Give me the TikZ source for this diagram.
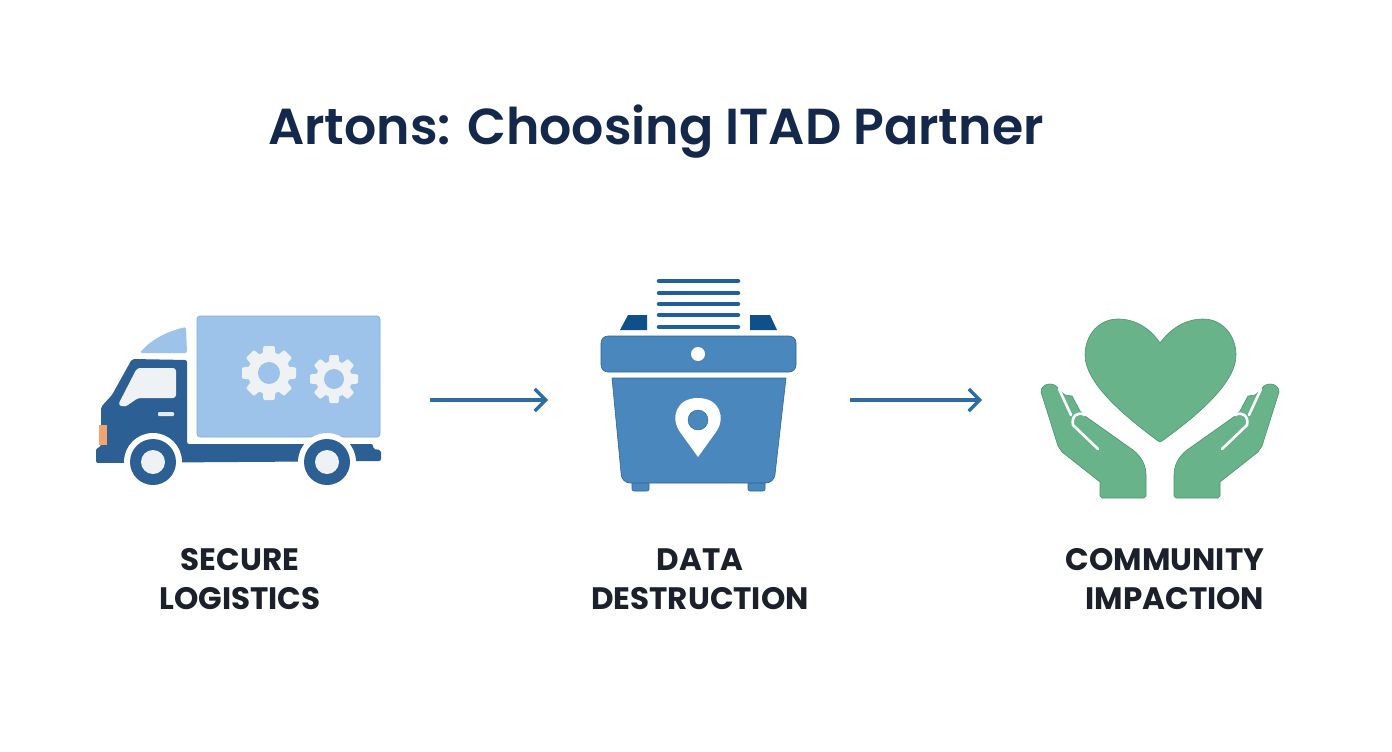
\documentclass[tikz,border=0pt]{standalone}
\usepackage{fontspec}
\setmainfont{Poppins}
\newfontfamily\titlefont{Poppins SemiBold}
\usetikzlibrary{positioning,arrows.meta}
\definecolor{titlenavy}{RGB}{20, 40, 75}
\definecolor{labelink}{RGB}{28, 32, 42}
\definecolor{truckblue}{RGB}{44, 95, 148}
\definecolor{boxblue}{RGB}{157, 195, 234}
\definecolor{boxedge}{RGB}{125, 172, 216}
\definecolor{palegrey}{RGB}{238, 242, 244}
\definecolor{lampcolor}{RGB}{242, 163, 111}
\definecolor{binblue}{RGB}{74, 135, 189}
\definecolor{binedge}{RGB}{44, 100, 150}
\definecolor{tabblue}{RGB}{15, 79, 138}
\definecolor{stripblue}{RGB}{30, 96, 158}
\definecolor{arrowblue}{RGB}{44, 109, 163}
\definecolor{heartgreen}{RGB}{105, 179, 138}
\definecolor{heartedge}{RGB}{76, 150, 110}
\tikzset{
    titletext/.style={font=\fontsize{50.6}{60}\selectfont\titlefont, text=titlenavy, inner sep=0pt},
    steplabel/.style={font=\fontsize{31}{39}\selectfont\bfseries, text=labelink, inner sep=0pt, align=center},
    iconbox/.style={minimum width=#1, minimum height=170pt, inner sep=0pt, outer sep=0pt},
    flowarrow/.style={arrowblue, line width=3.2pt, -{Straight Barb[length=11pt, width=22pt, line width=3.2pt]}},
    binpart/.style={fill=binblue, draw=binedge, line width=0.6pt},
    handshape/.style={fill=heartgreen, draw=heartedge, line width=0.6pt},
}

\begin{document}
\begin{tikzpicture}[x=1pt, y=-1pt]
\useasboundingbox (0,0) rectangle (1392,752);
\fill[white] (0,0) rectangle (1392,752);

% Title
\node[titletext] (title) at (656,132) {Artons: Choosing ITAD Partner};

% Truck cargo box and deflector
\draw[fill=boxblue, draw=boxedge, line width=0.6pt, rounded corners=3pt] (197,316) rectangle (380,437);
\fill[boxblue, rounded corners=1.5pt] (140,353) .. controls (150,340) and (168,331) .. (186,327) -- (187,353) -- cycle;

% Truck gears
\def\gearcolor{palegrey}
\foreach \gx/\gy/\gouter/\groot/\ghole/\gtooth in {269/373/27/21/11/6.5, 334/379/24/18/10/5.5} {
    \fill[\gearcolor] (\gx,\gy) circle (\groot pt);
    \foreach \ang in {0,45,...,315} {
        \fill[\gearcolor, rounded corners=1pt, shift={(\gx,\gy)}, rotate=\ang]
            (\groot-2,-\gtooth) -- (\gouter,-\gtooth+1) -- (\gouter,\gtooth-1) -- (\groot-2,\gtooth) -- cycle;
    }
    \fill[boxblue] (\gx,\gy) circle (\ghole pt);
}

% Truck cab and chassis
\fill[truckblue, rounded corners=2pt] (187,360) -- (132,359) -- (112,395) -- (101,407) -- (101,447) -- (96,448)
    -- (96,463) -- (381,461) -- (381,450) -- (373,449) -- (373,444) -- (187,444) -- cycle;
\fill[palegrey, rounded corners=3pt] (137,368) -- (176,368) -- (176,398) -- (138,398) -- (125,407) -- (118,405) -- cycle;
\fill[palegrey!85!boxblue, rounded corners=1pt] (158,412) rectangle (174,416);
\fill[lampcolor] (99,425) rectangle (107,445);

% Truck wheels
\foreach \wx in {153,327} {
    \fill[white] (\wx,462) circle (29pt);
    \fill[truckblue] (\wx,462) circle (23pt);
    \fill[palegrey] (\wx,462) circle (12pt);
}

% Shredder paper strips
\foreach \sy in {281,293,304,315,327} {
    \draw[stripblue, line width=4.5pt, line cap=round] (659,\sy) -- (738,\sy);
}

% Shredder tabs
\fill[tabblue] (620,330) -- (628,315) -- (647,315) -- (647,330) -- cycle;
\fill[tabblue] (750,315) -- (770,315) -- (777,330) -- (750,330) -- cycle;

% Shredder lid and bin
\draw[binpart, rounded corners=7pt] (601,336) rectangle (796,372);
\fill[white] (698,354) circle (7pt);
\draw[binpart, rounded corners=2pt] (632,480) rectangle (649,491);
\draw[binpart, rounded corners=2pt] (748,480) rectangle (765,491);
\draw[binpart, line join=round] (612,378) -- (786,378) [rounded corners=8pt] -- (774,483) -- (622,483) [sharp corners] -- (612,378) -- cycle;

% Map pin on the bin
\fill[white] (698,457) -- (680,432) .. controls (670,418) and (676,398) .. (698,398)
    .. controls (720,398) and (726,418) .. (716,432) -- cycle;
\draw[fill=binblue, draw=binedge, line width=0.4pt] (698,420) circle (10pt);

% Heart
\fill[heartgreen, draw=heartedge, line width=0.6pt] (1160,343) .. controls (1150,328) and (1135,319) .. (1118,319)
    .. controls (1098,319) and (1085,336) .. (1085,355) .. controls (1085,385) and (1130,420) .. (1158,441)
    -- (1160,442) -- (1162,441) .. controls (1191,420) and (1236,385) .. (1236,355)
    .. controls (1236,336) and (1223,319) .. (1203,319) .. controls (1186,319) and (1171,328) .. (1160,343) -- cycle;

% Left and right hands
\foreach \hshift/\hscale in {0/1, 2320/-1} {
\begin{scope}[xshift=\hshift pt, xscale=\hscale]
    \draw[handshape, line join=round] (1041,392) .. controls (1041,387) and (1045,384) .. (1050,384)
        .. controls (1054,384) and (1057,386) .. (1059,390)
        -- (1065,395) -- (1072,396) -- (1080,411) -- (1085,416) -- (1133,450)
        .. controls (1142,457) and (1146,466) .. (1146,475) -- (1146,496) -- (1144,498) -- (1102,498) -- (1100,496) -- (1100,482) -- (1062,452)
        -- (1058,446) -- cycle;
    \draw[white, line width=2.6pt, line cap=round] (1059,389) -- (1071,415);
    \draw[white, line width=2.6pt, line cap=round] (1085,415) .. controls (1078,411) and (1071,416) .. (1073,425) -- (1098,449);
\end{scope}
}

% Step labels
\node[steplabel] (logistics) at (240,579) {SECURE\\LOGISTICS};
\node[steplabel] (destruction) at (700,579) {DATA\\DESTRUCTION};
\node[steplabel, align=right] (impaction) at (1165,579) {COMMUNITY\\IMPACTION\hspace{4pt}};

% Icon holders and arrows
\node[iconbox=285pt] (truck) at (238.5,400) {};
\node[iconbox=195pt] (shredder) at (698.5,400) {};
\node[iconbox=240pt] (hands) at (1160,400) {};
\draw[flowarrow, shorten <=49pt, shorten >=53pt] (truck) -- (shredder);
\draw[flowarrow, shorten <=54pt, shorten >=58pt] (shredder) -- (hands);
\end{tikzpicture}
\end{document}
